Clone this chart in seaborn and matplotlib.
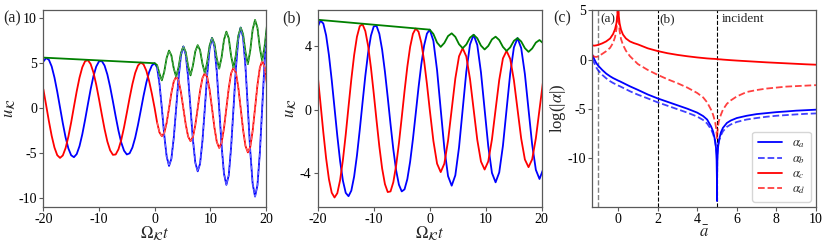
import matplotlib
matplotlib.use("Agg")
import matplotlib.pyplot as plt
import seaborn as sns

# incident part, t < 0 (same in panels a and b)
t_in = [-20.0 + 0.5 * i for i in range(41)]
blue_in = [5.18, 5.57, 5.38, 4.64, 3.41, 1.84, 0.09, -1.66, -3.24, -4.46, -5.22,
           -5.43, -5.08, -4.20, -2.89, -1.29, 0.43, 2.11, 3.55, 4.62, 5.20, 5.24,
           4.74, 3.75, 2.37, 0.76, -0.92, -2.50, -3.81, -4.71, -5.13, -5.00, -4.36,
           -3.27, -1.85, -0.25, 1.38, 2.84, 4.01, 4.75, 5.00]
red_in = [2.12, 0.36, -1.43, -3.06, -4.36, -5.21, -5.51, -5.24, -4.42, -3.15, -1.57,
          0.18, 1.89, 3.40, 4.55, 5.22, 5.34, 4.91, 3.98, 2.63, 1.02, -0.68, -2.31,
          -3.69, -4.67, -5.17, -5.13, -4.55, -3.51, -2.11, -0.50, 1.15, 2.68, 3.92,
          4.74, 5.07, 4.87, 4.17, 3.03, 1.60, 0.00]
t_env = [-20.0, 0.0]
env_in = [5.62, 5.00]

# panel (a), t > 0
t_a = [0.43, 0.86, 1.29, 1.72, 2.15, 2.58, 3.00, 3.43, 3.86, 4.29, 4.72, 5.15,
       5.58, 6.01, 6.44, 6.87, 7.30, 7.73, 8.15, 8.58, 9.01, 9.44, 9.87, 10.30,
       10.73, 11.16, 11.59, 12.02, 12.45, 12.88, 13.31, 13.73, 14.16, 14.59, 15.02,
       15.45, 15.88, 16.31, 16.74, 17.17, 17.60, 18.03, 18.46, 18.89, 19.31, 19.74,
       20.17]
blue_a = [4.53, 2.74, 0.0, -2.97, -5.34, -6.40, -5.61, -3.28, 0.0, 3.35, 5.87, 6.85,
          5.96, 3.45, 0.0, -3.48, -6.04, -7.00, -6.17, -3.64, 0.0, 3.77, 6.64, 7.80,
          6.86, 4.02, 0.0, -4.14, -7.26, -8.50, -7.43, -4.33, 0.0, 4.40, 7.69, 8.95,
          7.87, 4.62, 0.0, -4.76, -8.37, -9.80, -8.55, -4.97, 0.0, 5.04, 8.77]
red_a = [-1.55, -2.68, -3.10, -2.75, -1.62, 0.0, 1.69, 2.97, 3.50, 3.06, 1.78, 0.0,
         -1.80, -3.14, -3.65, -3.20, -1.87, 0.0, 1.91, 3.34, 3.90, 3.45, 2.04, 0.0,
         -2.12, -3.74, -4.40, -3.83, -2.22, 0.0, 2.24, 3.88, 4.50, 3.96, 2.32, 0.0,
         -2.39, -4.18, -4.90, -4.30, -2.51, 0.0, 2.57, 4.49, 5.25, 4.59, 2.67]
green_a = [4.79, 3.83, 3.10, 4.05, 5.58, 6.40, 5.86, 4.42, 3.50, 4.54, 6.13, 6.85,
           6.23, 4.66, 3.65, 4.73, 6.32, 7.00, 6.46, 4.94, 3.90, 5.11, 6.95, 7.80,
           7.18, 5.49, 4.40, 5.64, 7.59, 8.50, 7.76, 5.81, 4.50, 5.92, 8.03, 8.95,
           8.22, 6.23, 4.90, 6.41, 8.74, 9.80, 8.93, 6.70, 5.25, 6.82, 9.17]

# panel (b), t > 0
t_b = [0.65, 1.31, 1.96, 2.61, 3.27, 3.92, 4.57, 5.23, 5.88, 6.53, 7.19, 7.84,
       8.49, 9.15, 9.80, 10.45, 11.11, 11.76, 12.41, 13.07, 13.72, 14.37, 15.03,
       15.68, 16.33, 16.99, 17.64, 18.29, 18.95, 19.60, 20.25]
blue_b = [4.30, 2.46, 0.0, -2.43, -4.17, -4.77, -4.12, -2.37, 0.0, 2.36, 4.07, 4.68,
          4.04, 2.32, 0.0, -2.30, -3.97, -4.56, -3.94, -2.27, 0.0, 2.25, 3.89, 4.47,
          3.85, 2.22, 0.0, -2.20, -3.78, -4.35, -3.75]
red_b = [-1.96, -3.39, -3.92, -3.39, -1.95, 0.0, 1.94, 3.33, 3.84, 3.32, 1.91, 0.0,
         -1.90, -3.26, -3.76, -3.25, -1.87, 0.0, 1.85, 3.20, 3.67, 3.17, 1.83, 0.0,
         -1.82, -3.13, -3.61, -3.12, -1.80, 0.0, 1.79]
green_b = [4.73, 4.19, 3.92, 4.17, 4.60, 4.77, 4.55, 4.09, 3.84, 4.07, 4.50, 4.68,
           4.46, 4.00, 3.76, 3.98, 4.39, 4.56, 4.35, 3.92, 3.67, 3.89, 4.30, 4.47,
           4.26, 3.84, 3.61, 3.82, 4.19, 4.35, 4.15]

# panel (c)
abar = [-1.3, -1.2, -1.1, -1.0, -0.8, -0.6, -0.4, -0.25, -0.15, -0.08, -0.03, -0.01,
        0.0, 0.01, 0.03, 0.08, 0.15, 0.25, 0.4, 0.6, 0.8, 1.0, 1.5, 2.0, 2.5, 3.0,
        3.5, 4.0, 4.3, 4.5, 4.7, 4.8, 4.9, 4.95, 4.98, 4.995, 5.0, 5.005, 5.02, 5.05,
        5.1, 5.2, 5.3, 5.5, 5.7, 6.0, 6.5, 7.0, 7.5, 8.0, 8.5, 9.0, 9.5, 10.0]
log_a = [0.5, 0.05, -0.35, -0.62, -1.05, -1.42, -1.7, -1.88, -1.98, -2.05, -2.1, -2.12,
         -2.13, -2.14, -2.16, -2.2, -2.27, -2.37, -2.52, -2.72, -2.9, -3.08, -3.55,
         -3.95, -4.3, -4.65, -5.0, -5.4, -5.75, -6.1, -6.8, -7.3, -8.2, -9.0, -10.2,
         -12.0, -14.4, -12.0, -10.2, -9.0, -8.2, -7.4, -6.95, -6.45, -6.2, -5.95,
         -5.72, -5.55, -5.45, -5.35, -5.28, -5.2, -5.15, -5.1]
log_b = [0.1, -0.35, -0.8, -1.1, -1.55, -1.9, -2.2, -2.38, -2.48, -2.55, -2.6, -2.62,
         -2.63, -2.64, -2.66, -2.7, -2.77, -2.87, -3.02, -3.22, -3.4, -3.57, -3.95,
         -4.35, -4.7, -5.05, -5.4, -5.8, -6.15, -6.5, -7.1, -7.55, -8.3, -8.9, -9.4,
         -9.7, -9.8, -9.7, -9.3, -8.8, -8.3, -7.7, -7.3, -6.85, -6.6, -6.35, -6.1,
         -5.95, -5.82, -5.72, -5.65, -5.58, -5.52, -5.48]
log_c = [1.45, 1.42, 1.45, 1.5, 1.65, 1.85, 2.15, 2.6, 3.1, 3.7, 4.6, 5.6, 7.0, 5.6,
         4.6, 3.7, 3.05, 2.55, 2.15, 1.85, 1.68, 1.55, 1.15, 0.87, 0.65, 0.48, 0.34,
         0.22, 0.16, 0.12, 0.09, 0.08, 0.07, 0.06, 0.06, 0.05, 0.05, 0.05, 0.05, 0.04,
         0.03, 0.02, 0.0, -0.03, -0.06, -0.1, -0.16, -0.22, -0.28, -0.33, -0.38,
         -0.43, -0.48, -0.52]
log_d = [0.45, 0.3, 0.27, 0.33, 0.58, 0.85, 1.2, 1.7, 2.3, 3.1, 4.2, 5.4, 7.0, 5.4,
         4.1, 2.9, 2.1, 1.5, 0.9, 0.35, -0.05, -0.45, -1.05, -1.55, -2.0, -2.4, -2.85,
         -3.4, -3.85, -4.35, -5.1, -5.6, -6.3, -6.9, -7.5, -7.9, -8.0, -7.9, -7.4,
         -6.8, -6.2, -5.6, -5.1, -4.5, -4.15, -3.75, -3.3, -3.1, -2.95, -2.85, -2.75,
         -2.7, -2.65, -2.6]

sns.set_theme(style="ticks")
plt.rcParams["font.family"] = ["Liberation Serif", "DejaVu Serif"]
plt.rcParams["mathtext.fontset"] = "stix"
plt.rcParams["axes.unicode_minus"] = False
plt.rcParams["font.size"] = 10

fig = plt.figure(figsize=(8.3, 2.44), dpi=100)
ax_a = fig.add_axes([0.0522, 0.152, 0.2683, 0.805])
ax_b = fig.add_axes([0.3828, 0.152, 0.2699, 0.805])
ax_c = fig.add_axes([0.7136, 0.152, 0.2695, 0.805])

lw = 1.3
kw = dict(estimator=None, sort=False, errorbar=None)

for ax, t_out, b, r, g in [(ax_a, t_a, blue_a, red_a, green_a),
                           (ax_b, t_b, blue_b, red_b, green_b)]:
    sns.lineplot(x=t_in + t_out, y=blue_in + b, color="blue", lw=lw, ax=ax, **kw)
    sns.lineplot(x=t_in + t_out, y=red_in + r, color="red", lw=lw, ax=ax, **kw)
    sns.lineplot(x=t_env + t_out, y=env_in + g, color="green", lw=lw, ax=ax, **kw)

# dashed overlays in (a)
sns.lineplot(x=t_a, y=blue_a, color="#6a6aff", lw=0.8, ls="--", ax=ax_a, **kw)
sns.lineplot(x=t_a, y=red_a, color="#ff6a6a", lw=0.8, ls="--", ax=ax_a, **kw)
sns.lineplot(x=t_a, y=green_a, color="#55a855", lw=0.8, ls="--", ax=ax_a, **kw)

ax_a.set_xlim(-20, 20)
ax_a.set_ylim(-10.95, 10.85)
ax_a.set_xticks([-20, -10, 0, 10, 20])
ax_a.set_yticks([-10, -5, 0, 5, 10])
ax_b.set_xlim(-20, 20)
ax_b.set_ylim(-6.1, 6.2)
ax_b.set_xticks([-20, -10, 0, 10, 20])
ax_b.set_yticks([-4, 0, 4])
for ax in (ax_a, ax_b):
    ax.set_xlabel(r"$\Omega_{\mathcal{K}}t$", labelpad=-1)
    ax.set_ylabel(r"$u_{\mathcal{K}}$", labelpad=1)

# (c)
ax_c.axvline(-1, color="0.5", ls="--", lw=1.0)
ax_c.axvline(2, color="black", ls="--", lw=0.8)
ax_c.axvline(5, color="black", ls="--", lw=0.8)
sns.lineplot(x=abar, y=log_a, color="blue", lw=lw, ax=ax_c, label=r"$\alpha_a$", **kw)
sns.lineplot(x=abar, y=log_b, color="blue", lw=lw, ls="--", alpha=0.75, ax=ax_c,
             label=r"$\alpha_b$", **kw)
sns.lineplot(x=abar, y=log_c, color="red", lw=lw, ax=ax_c, label=r"$\alpha_c$", **kw)
sns.lineplot(x=abar, y=log_d, color="red", lw=lw, ls="--", alpha=0.75, ax=ax_c,
             label=r"$\alpha_d$", **kw)
ax_c.text(-0.9, 4.1, "(a)", va="center", fontsize=9.5)
ax_c.text(2.1, 4.1, "(b)", va="center", fontsize=9.5)
ax_c.text(5.25, 4.1, "incident", va="center", fontsize=9.5)
ax_c.set_xlim(-1.3, 10)
ax_c.set_ylim(-15, 5)
ax_c.set_xticks([0, 2, 4, 6, 8, 10])
ax_c.set_yticks([-10, -5, 0, 5])
ax_c.set_xlabel(r"$\bar{a}$", labelpad=-1)
ax_c.set_ylabel(r"log(|$\alpha$|)", labelpad=0)
ax_c.legend(loc="lower right", fontsize=9, handlelength=1.9, edgecolor="0.8",
            fancybox=True, borderpad=0.45, labelspacing=0.2, handletextpad=0.8,
            borderaxespad=0.4)

for ax in (ax_a, ax_b, ax_c):
    for s in ax.spines.values():
        s.set_visible(True)
        s.set_color("0.35")
        s.set_linewidth(0.9)
    ax.tick_params(colors="0.35", labelcolor="black", labelsize=10, length=3,
                   width=0.8, pad=1.5)

fig.text(0.004, 0.925, "(a)", fontsize=11.5, va="center")
fig.text(0.340, 0.925, "(b)", fontsize=11.5, va="center")
fig.text(0.666, 0.925, "(c)", fontsize=11.5, va="center")

fig.savefig("out.png", dpi=100)
